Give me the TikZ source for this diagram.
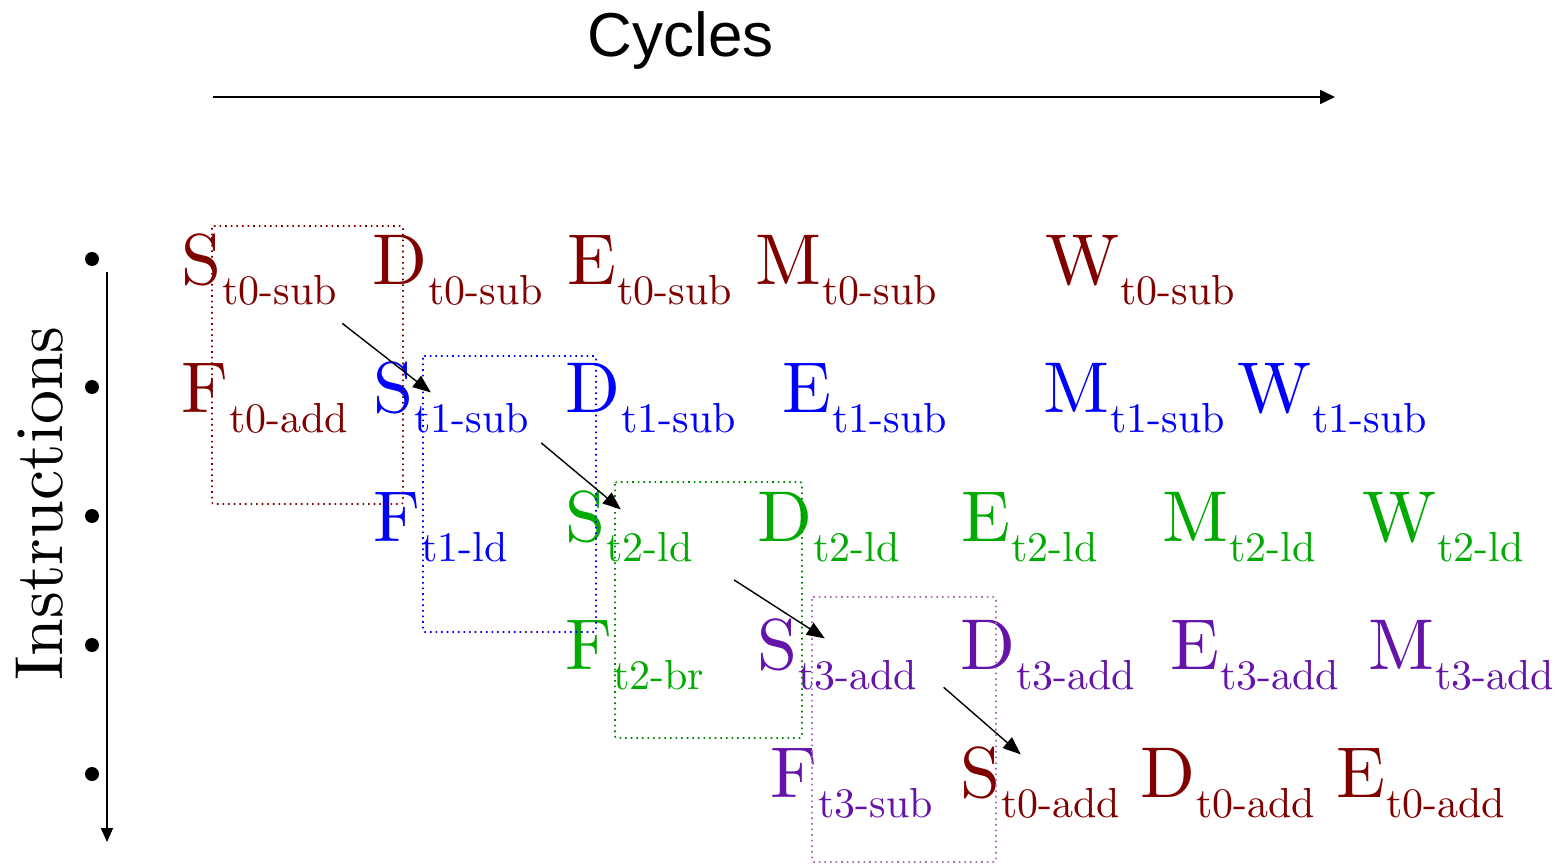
\documentclass[tikz,border=0pt]{standalone}
\usepackage{fontspec}
\usepackage{tikz}
\usetikzlibrary{calc}
\usetikzlibrary{arrows.meta}
\newfontfamily\cyclesfont{Liberation Sans}
\newfontfamily\stagefont{lmroman10-regular.otf}
\definecolor{tzero}{RGB}{128,0,0}
\definecolor{tone}{RGB}{0,0,255}
\definecolor{ttwo}{RGB}{0,170,0}
\definecolor{tthree}{RGB}{100,20,168}
\definecolor{tthreebox}{RGB}{170,110,180}
\tikzset{
  stageletter/.style={anchor=base west, inner sep=0pt, font=\stagefont\fontsize{36}{36}\selectfont},
  stagesub/.style={anchor=base west, inner sep=0pt, font=\stagefont\fontsize{21}{21}\selectfont},
  slotbox/.style={dotted, line width=0.8pt, rounded corners=1pt},
  hop/.style={-{Triangle[length=9pt,width=7pt]}, line width=0.7pt}
}
\newcommand{\stage}[6]{\node[stageletter, text=#4] (#1) at (#2,#3) {#5};
  \node[stagesub, text=#4] (#1-sub) at ([yshift=-10pt]#1.base east) {#6};}

\begin{document}
\begin{tikzpicture}[x=0.5pt, y=-0.5pt]
        \useasboundingbox (0,0) rectangle (1556,865);
        % axes
        \node[font=\cyclesfont\fontsize{31}{31}\selectfont, anchor=base] (cycles) at (681,57) {Cycles};
        \coordinate (cstart) at (213,97);
        \coordinate (cend) at (1335,97);
        \draw[line width=0.8pt, -{Triangle[length=7.5pt,width=7pt]}] (cstart) -- (cend);
        \node[font=\stagefont\fontsize{34}{34}\selectfont, rotate=90, anchor=base west, inner sep=0pt] (instr) at (62,681) {Instructions};
        \coordinate (istart) at (107,272);
        \coordinate (iend) at (107,842);
        \draw[line width=0.8pt, -{Triangle[length=7pt,width=6pt]}] (istart) -- (iend);
        \fill (92,259) circle (3.5pt);
        \fill (92,387) circle (3.5pt);
        \fill (92,516) circle (3.5pt);
        \fill (92,645) circle (3.5pt);
        \fill (92,774) circle (3.5pt);
        % row 1
        \stage{r1s}{181}{285}{tzero}{S}{t0-sub}
        \stage{r1d}{372}{285}{tzero}{D}{t0-sub}
        \stage{r1e}{567}{285}{tzero}{E}{t0-sub}
        \stage{r1m}{755}{285}{tzero}{M}{t0-sub}
        \stage{r1w}{1045}{285}{tzero}{W}{t0-sub}
        % row 2
        \stage{r2f}{181}{413}{tzero}{F}{t0-add}
        \stage{r2s}{373}{413}{tone}{S}{t1-sub}
        \stage{r2d}{565}{413}{tone}{D}{t1-sub}
        \stage{r2e}{782}{413}{tone}{E}{t1-sub}
        \stage{r2m}{1043}{413}{tone}{M}{t1-sub}
        \stage{r2w}{1237}{413}{tone}{W}{t1-sub}
        % row 3
        \stage{r3f}{373}{541}{tone}{F}{t1-ld}
        \stage{r3s}{565}{541}{ttwo}{S}{t2-ld}
        \stage{r3d}{757}{541}{ttwo}{D}{t2-ld}
        \stage{r3e}{961}{541}{ttwo}{E}{t2-ld}
        \stage{r3m}{1162}{541}{ttwo}{M}{t2-ld}
        \stage{r3w}{1362}{541}{ttwo}{W}{t2-ld}
        % row 4
        \stage{r4f}{565}{669}{ttwo}{F}{t2-br}
        \stage{r4s}{757}{669}{tthree}{S}{t3-add}
        \stage{r4d}{960}{669}{tthree}{D}{t3-add}
        \stage{r4e}{1170}{669}{tthree}{E}{t3-add}
        \stage{r4m}{1368}{669}{tthree}{M}{t3-add}
        % row 5
        \stage{r5f}{770}{797}{tthree}{F}{t3-sub}
        \stage{r5s}{960}{797}{tzero}{S}{t0-add}
        \stage{r5d}{1140}{797}{tzero}{D}{t0-add}
        \stage{r5e}{1336}{797}{tzero}{E}{t0-add}
        % thread windows
        \draw[slotbox, tzero] (212,226) rectangle (403,504);
        \draw[slotbox, tone] (423,356) rectangle (596,632);
        \draw[slotbox, ttwo!80!black] (615,482) rectangle (802,738);
        \draw[slotbox, tthreebox] (812,597) rectangle (996,862);
        % switches
        \draw[hop] ($(r1s-sub.south east)+(5,17)$) -- ($(r2s-sub.north west)+(17,-11)$);
        \draw[hop] ($(r2s-sub.south east)+(12,9)$) -- ($(r3s-sub.north west)+(15,-22)$);
        \draw[hop] ($(r3s-sub.south east)+(41,18)$) -- ($(r4s-sub.north west)+(27,-21)$);
        \draw[hop] ($(r4s-sub.south east)+(26,-3)$) -- ($(r5s-sub.north west)+(20,-33)$);
\end{tikzpicture}
\end{document}
